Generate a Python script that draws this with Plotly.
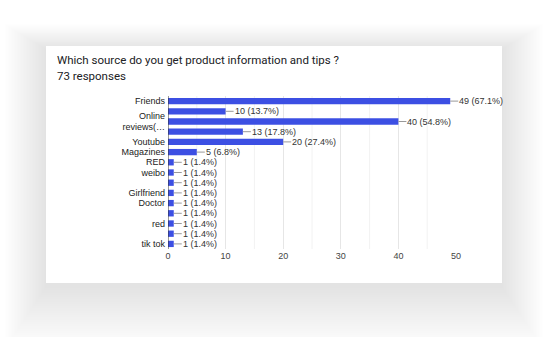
import plotly.graph_objects as go

# ---- data ----
labels = ["Friends", "", "Online<br>reviews(…", "", "Youtube", "Magazines", "RED", "weibo",
          "", "Girlfriend", "Doctor", "", "red", "", "tik tok"]
values = [49, 10, 40, 13, 20, 5, 1, 1, 1, 1, 1, 1, 1, 1, 1]
percents = ["67.1%", "13.7%", "54.8%", "17.8%", "27.4%", "6.8%", "1.4%", "1.4%", "1.4%",
            "1.4%", "1.4%", "1.4%", "1.4%", "1.4%", "1.4%"]
x_ticks = [0, 10, 20, 30, 40, 50]
title = "Which source do you get product information and tips ?"
subtitle = "73 responses"

W, H = 556, 337
L, R, T, B = 168, 456, 96, 249  # plot area in pixels


def px(xp):
    return (xp - L) / (R - L)


def py(yp):
    return (B - yp) / (B - T)


ys = list(range(len(values)))
BAR = "#3c4fe3"

fig = go.Figure()
fig.add_trace(go.Bar(
    x=values, y=ys, orientation="h",
    marker=dict(color=BAR, line=dict(width=0)),
    hoverinfo="skip",
))

shapes = []
# soft shadow around the card
cx0, cy0, cx1, cy1 = 46, 46, 502, 283
N = 28
for i in range(N):
    g = 1 + i * 1.5
    shapes.append(dict(type="rect", xref="paper", yref="paper", layer="below",
                       x0=px(cx0 - g), x1=px(cx1 + g),
                       y0=py(cy1 + g * 1.5 + 4), y1=py(cy0 - g * 0.6 + 3),
                       fillcolor="rgba(60,60,90,0.0035)", line=dict(width=0)))
shapes.append(dict(type="rect", xref="paper", yref="paper", layer="below",
                   x0=px(cx0), x1=px(cx1), y0=py(cy1), y1=py(cy0),
                   fillcolor="white", line=dict(width=0)))
# minor gridlines at 5s
for v in [5, 15, 25, 35, 45]:
    shapes.append(dict(type="line", xref="x", yref="paper", layer="below",
                       x0=v, x1=v, y0=0, y1=1, line=dict(color="#f2f2f2", width=1)))

annotations = []
for v, p, y in zip(values, percents, ys):
    annotations.append(dict(
        x=v, y=y, xref="x", yref="y", text=f"{v} ({p})",
        showarrow=True, arrowhead=0, arrowwidth=1, arrowcolor="#999",
        ax=8, ay=0, xanchor="left", yanchor="middle", standoff=0,
        font=dict(family="Liberation Sans, Arial", size=9, color="#333"),
        borderpad=0,
    ))
annotations.append(dict(x=px(55), y=py(60), xref="paper", yref="paper", text=title,
                        showarrow=False, xanchor="left", yanchor="middle",
                        font=dict(family="Roboto, Arial", size=11.5, color="#202124")))
annotations.append(dict(x=px(55), y=py(76), xref="paper", yref="paper", text=subtitle,
                        showarrow=False, xanchor="left", yanchor="middle",
                        font=dict(family="Roboto, Arial", size=11.5, color="#202124")))

fig.update_layout(
    width=W, height=H,
    margin=dict(l=L, r=W - R, t=T, b=H - B, pad=0),
    paper_bgcolor="white", plot_bgcolor="rgba(0,0,0,0)",
    showlegend=False, bargap=0.38,
    shapes=shapes, annotations=annotations,
    xaxis=dict(range=[0, 50], tickvals=x_ticks, ticktext=[str(t) for t in x_ticks],
               showgrid=True, gridcolor="#e6e6e6", gridwidth=1, zeroline=False,
               showline=False, ticks="", ticklen=0,
               tickfont=dict(family="Liberation Sans, Arial", size=9, color="#444"),
               fixedrange=True),
    yaxis=dict(range=[len(values) - 0.5, -0.5], tickvals=ys, ticktext=labels,
               showgrid=False, zeroline=False, showline=False, ticks="",
               tickfont=dict(family="Liberation Sans, Arial", size=9, color="#222"),
               ticklabelstandoff=2, fixedrange=True),
)
# y axis line at x=0
fig.add_shape(type="line", xref="x", yref="paper", x0=0, x1=0, y0=0, y1=1,
              line=dict(color="#333", width=1))

fig.write_html("out.html", config={"displayModeBar": False})
